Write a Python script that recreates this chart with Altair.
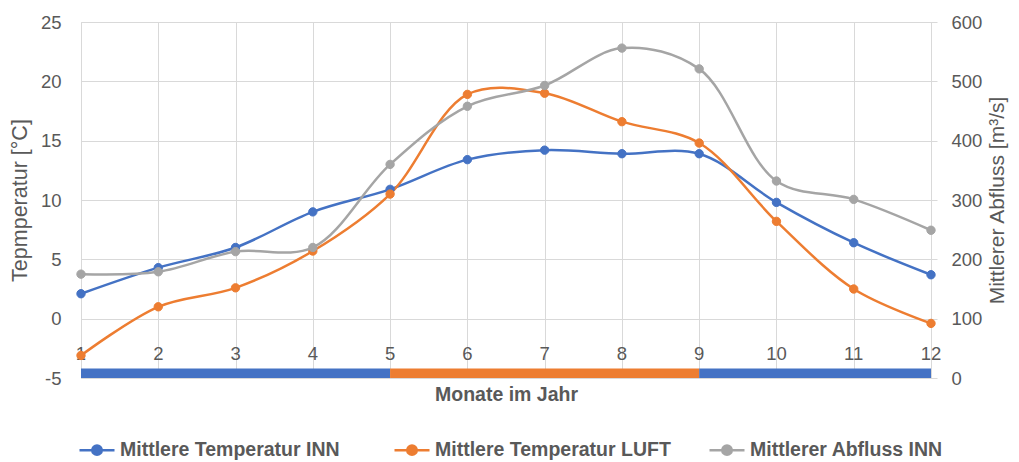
import altair as alt
import pandas as pd

months = list(range(1, 13))
temp_inn = [2.1, 4.3, 6.0, 9.0, 10.9, 13.4, 14.2, 13.9, 13.9, 9.8, 6.4, 3.7]
temp_luft = [-3.1, 1.0, 2.6, 5.7, 10.5, 18.9, 19.0, 16.6, 14.8, 8.2, 2.5, -0.4]
abfluss = [175, 179, 213, 220, 360, 458, 493, 556, 521, 332, 301, 249]

series_names = ["Mittlere Temperatur INN", "Mittlere Temperatur LUFT", "Mittlerer Abfluss INN"]
series_colors = ["#4472C4", "#ED7D31", "#A5A5A5"]

band_start = [1, 5, 9]
band_end = [5, 9, 12]
band_series = ["Mittlere Temperatur INN", "Mittlere Temperatur LUFT", "Mittlere Temperatur INN"]

temp_ticks = [-5, 0, 5, 10, 15, 20, 25]
flow_ticks = [0, 100, 200, 300, 400, 500, 600]

TXT = "#595959"
GRID = "#D9D9D9"
FONT = "Liberation Sans"

temp_df = pd.DataFrame({
    "month": months * 2,
    "series": [series_names[0]] * 12 + [series_names[1]] * 12,
    "value": temp_inn + temp_luft,
})
flow_df = pd.DataFrame({"month": months, "series": [series_names[2]] * 12, "flow": abfluss})
band_df = pd.DataFrame({"start": band_start, "end": band_end, "series": band_series})
label_df = pd.DataFrame({"month": months})

x_scale = alt.Scale(domain=[1, 12], nice=False, zero=False)
x_axis = alt.Axis(values=months, grid=True, gridColor=GRID, gridWidth=1, labels=False, ticks=False,
                  domain=False, title="Monate im Jahr", titleFontSize=19.5, titleFontWeight="bold",
                  titleColor=TXT, titlePadding=7)

t_scale = alt.Scale(domain=[-5, 25], nice=False, zero=False)
t_axis = alt.Axis(values=temp_ticks, grid=True, gridColor=GRID, gridWidth=1, ticks=False, domain=False,
                  labelFontSize=18.5, labelColor=TXT, labelPadding=20, labelExpr="datum.value",
                  title="Tepmperatur [°C]", titleFontSize=21.5, titleFontWeight="normal",
                  titleColor=TXT, titlePadding=9)

f_scale = alt.Scale(domain=[0, 600], nice=False, zero=True)
f_axis = alt.Axis(orient="right", values=flow_ticks, grid=False, domain=True, domainColor=GRID,
                  ticks=True, tickColor=GRID, tickSize=6, labelFontSize=18.5, labelColor=TXT,
                  labelPadding=14, labelExpr="datum.value",
                  title="Mittlerer Abfluss [m³/s]", titleFontSize=21,
                  titleFontWeight="normal", titleColor=TXT, titlePadding=5, titleAngle=270,
                  titleBaseline="top")

legend = alt.Legend(
    orient="none", legendX=-3, legendY=409, direction="horizontal", columns=3, title=None,
    symbolType="M-1,0L1,0M-0.27,0A0.27,0.27 0 1,1 0.27,0A0.27,0.27 0 1,1 -0.27,0Z",
    symbolSize=1225, symbolStrokeWidth=2.5, symbolOpacity=1,
    labelFontSize=19.5, labelFontWeight="bold", labelColor=TXT, labelLimit=400, labelOffset=4,
    columnPadding=33, gridAlign="all", padding=0,
)
series_scale = alt.Scale(domain=series_names, range=series_colors)
fill = alt.Fill("series:N", scale=series_scale, legend=legend, title=None)
stroke = alt.Stroke("series:N", scale=series_scale, legend=legend, title=None)

bars = alt.Chart(band_df).mark_rect().encode(
    x=alt.X("start:Q", scale=x_scale, axis=x_axis),
    x2="end:Q",
    y=alt.YDatum(-5, scale=t_scale, axis=t_axis),
    y2=alt.Y2Datum(-4.2),
    fill=fill,
)

labels = alt.Chart(label_df).mark_text(fontSize=18.5, color=TXT, baseline="middle", align="center").encode(
    x=alt.X("month:Q", scale=x_scale, axis=x_axis),
    y=alt.YDatum(-3.0, scale=t_scale, axis=t_axis),
    text="month:Q",
)

temp_lines = alt.Chart(temp_df).mark_line(interpolate="catmull-rom", strokeWidth=2.5).encode(
    x=alt.X("month:Q", scale=x_scale, axis=x_axis),
    y=alt.Y("value:Q", scale=t_scale, axis=t_axis),
    stroke=stroke,
)
temp_points = alt.Chart(temp_df).mark_point(filled=True, size=70, opacity=1, strokeWidth=1).encode(
    x=alt.X("month:Q", scale=x_scale, axis=x_axis),
    y=alt.Y("value:Q", scale=t_scale, axis=t_axis),
    fill=fill,
    stroke=stroke,
)

flow_line = alt.Chart(flow_df).mark_line(interpolate="catmull-rom", strokeWidth=2.5).encode(
    x=alt.X("month:Q", scale=x_scale, axis=x_axis),
    y=alt.Y("flow:Q", scale=f_scale, axis=f_axis),
    stroke=stroke,
)
flow_points = alt.Chart(flow_df).mark_point(filled=True, size=70, opacity=1, strokeWidth=1).encode(
    x=alt.X("month:Q", scale=x_scale, axis=x_axis),
    y=alt.Y("flow:Q", scale=f_scale, axis=f_axis),
    fill=fill,
    stroke=stroke,
)

temp_group = alt.layer(bars, labels, temp_lines, temp_points)
flow_group = alt.layer(flow_line, flow_points)

chart = alt.layer(temp_group, flow_group).resolve_scale(y="independent").properties(
    width=850, height=356,
    autosize=alt.AutoSizeParams(type="none"),
    padding={"left": 73, "top": 14, "right": 80, "bottom": 84},
    background="white",
).configure_view(stroke=None).configure(font=FONT)

chart.save("out.html", embed_options={"renderer": "svg", "actions": False})
